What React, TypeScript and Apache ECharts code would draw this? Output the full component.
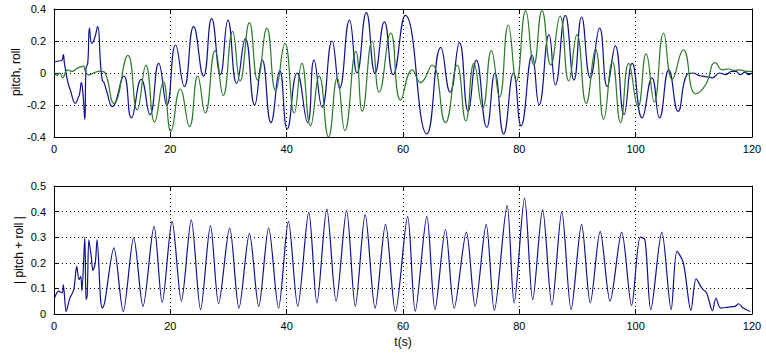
import React, { useEffect, useRef } from 'react';
import * as echarts from 'echarts';

// time stamps (s) and values
const pitchT = [0, 0.8, 1.4, 1.6, 1.8, 2.3, 2.8, 3.7, 4.1, 4.4, 4.7, 5.0, 5.3, 5.5, 5.8, 6.1, 6.5, 7.0, 7.5, 8.0, 8.3, 8.6, 9.1, 10.0, 12.0, 13.3, 15.0, 16.5, 18.0, 19.4, 20.9, 22.4, 24.0, 25.7, 27.1, 28.6, 29.9, 31.4, 32.9, 34.5, 35.8, 37.3, 38.8, 40.1, 41.8, 43.6, 44.7, 46.1, 47.8, 49.1, 50.8, 52.1, 53.7, 55.2, 56.8, 58.3, 60.4, 64.1, 66.5, 68.1, 69.7, 71.2, 72.6, 74.4, 75.8, 77.3, 79.0, 80.3, 82.2, 83.4, 85.1, 86.2, 87.9, 89.4, 90.7, 92.2, 93.8, 95.1, 96.5, 98.0, 99.4, 101.1, 102.8, 104.1, 105.7, 107.3, 108.8, 109.8, 110.8, 111.5, 112.4, 113.2, 114.4, 115.5, 116.5, 117.2, 118.0, 118.8, 119.4, 120];
const pitchV = [0.067, 0.075, 0.08, 0.115, 0.06, -0.044, -0.106, -0.19, -0.16, -0.13, -0.06, -0.14, -0.29, 0.03, 0.06, 0.28, 0.185, 0.22, 0.29, 0.06, -0.044, -0.06, -0.12, -0.21, -0.02, -0.28, -0.04, -0.26, 0.06, -0.2, 0.175, -0.085, 0.29, -0.02, 0.34, -0.01, 0.33, -0.065, 0.215, -0.2, 0.08, -0.31, 0.015, -0.35, 0.0, -0.31, 0.08, -0.215, 0.2, -0.096, 0.33, 0.0, 0.377, 0.0, 0.32, -0.01, 0.36, -0.38, 0.16, -0.12, 0.19, -0.24, 0.08, -0.34, 0.0, -0.38, 0.0, -0.33, 0.11, -0.2, 0.24, -0.075, 0.36, -0.044, 0.35, -0.03, 0.28, -0.085, 0.17, -0.26, 0.06, -0.28, -0.03, -0.28, 0.02, -0.24, -0.01, 0.0, -0.015, -0.02, -0.025, -0.03, 0.0, -0.01, 0.01, 0.01, -0.01, 0.005, -0.01, 0.0];

const rollT = [0, 0.5, 1.0, 1.5, 2.3, 3.1, 4.0, 4.8, 5.1, 5.4, 6.0, 6.8, 8.0, 8.8, 10.3, 12.7, 14.3, 15.8, 17.3, 18.8, 20.1, 21.7, 23.3, 24.7, 26.0, 27.7, 29.1, 30.7, 32.0, 33.6, 35.0, 36.6, 38.1, 39.7, 41.3, 42.6, 44.1, 45.6, 47.2, 48.7, 50.0, 51.9, 53.0, 54.7, 55.9, 57.9, 59.6, 61.6, 63.0, 65.0, 67.3, 69.3, 70.8, 72.2, 73.7, 75.2, 76.6, 78.1, 79.5, 81.1, 82.5, 83.9, 85.4, 87.0, 88.5, 89.9, 91.5, 93.1, 94.5, 96.0, 97.4, 98.8, 100.4, 101.8, 103.2, 104.8, 106.3, 108.2, 110.3, 112.0, 113.7, 114.9, 116.0, 117.0, 118.0, 119.0, 120];
const rollV = [0.0, -0.015, 0.0, -0.03, 0.02, 0.01, 0.03, 0.04, 0.044, 0.008, -0.012, 0.0, 0.012, 0.0, -0.19, 0.11, -0.23, 0.048, -0.306, -0.055, -0.365, -0.1, -0.335, -0.02, -0.25, 0.14, -0.14, 0.26, -0.05, 0.315, -0.044, 0.28, -0.11, 0.185, -0.25, 0.06, -0.33, -0.02, -0.4, -0.03, -0.36, 0.135, -0.24, 0.2, -0.12, 0.25, -0.17, 0.02, -0.06, 0.05, -0.31, 0.05, -0.3, 0.06, -0.22, 0.14, -0.15, 0.3, -0.05, 0.39, 0.05, 0.39, 0.05, 0.355, -0.05, 0.24, -0.19, 0.15, -0.29, 0.07, -0.31, 0.06, -0.21, 0.12, -0.18, 0.25, -0.04, 0.145, -0.13, -0.075, 0.065, 0.02, 0.025, 0.015, 0.02, 0.01, 0.01];

const magT = [0.1, 0.8, 1.4, 1.6, 2.1, 2.7, 3.4, 3.9, 4.3, 4.6, 4.8, 5.3, 5.5, 5.7, 6.0, 6.4, 6.7, 7.1, 7.4, 8.0, 8.3, 8.7, 10.3, 11.9, 13.7, 15.3, 17.2, 18.6, 20.3, 21.9, 23.6, 25.2, 26.9, 28.3, 30.2, 31.8, 33.6, 35.2, 36.9, 38.6, 40.3, 41.9, 43.8, 45.2, 46.9, 48.5, 50.3, 51.8, 53.5, 55.2, 57.0, 58.7, 60.8, 62.1, 64.1, 65.5, 67.3, 68.8, 70.9, 72.4, 74.3, 75.7, 77.9, 79.1, 80.9, 82.3, 84.0, 85.6, 87.3, 88.9, 90.7, 92.2, 93.9, 95.6, 97.6, 99.3, 100.8, 101.6, 102.6, 104.5, 106.1, 107.1, 108.2, 109.5, 110.4, 111.4, 112.2, 113.2, 113.8, 114.6, 115.9, 117.1, 117.7, 118.5, 119.7];
const magV = [0.0625, 0.089, 0.082, 0.115, 0.01, 0.06, 0.095, 0.186, 0.134, 0.147, 0.09, 0.30, 0.056, 0.07, 0.29, 0.225, 0.17, 0.2, 0.29, 0.06, 0.023, 0.043, 0.258, 0.01, 0.297, 0.03, 0.342, 0.045, 0.362, 0.05, 0.368, 0.017, 0.345, 0.04, 0.336, 0.023, 0.314, 0.03, 0.336, 0.023, 0.362, 0.03, 0.397, 0.043, 0.41, 0.05, 0.404, 0.03, 0.388, 0.023, 0.35, 0.01, 0.38, 0.01, 0.38, 0.017, 0.33, 0.023, 0.32, 0.03, 0.35, 0.014, 0.423, 0.043, 0.453, 0.056, 0.408, 0.036, 0.40, 0.017, 0.35, 0.043, 0.323, 0.05, 0.32, 0.033, 0.30, 0.29, 0.017, 0.32, 0.017, 0.245, 0.2, 0.014, 0.137, 0.1, 0.082, 0.013, 0.0625, 0.023, 0.027, 0.03, 0.04, 0.023, 0.01];

const tRange = [0, 120];
const tStep = 20;
const topRange = [-0.4, 0.4];
const topStep = 0.2;
const botRange = [0, 0.5];
const botStep = 0.1;
const topName = 'pitch, roll';
const botName = '| pitch + roll |';
const timeName = 't(s)';

const FONT = 'Liberation Sans, Arial, sans-serif';
const BLUE = '#10108e';
const GREEN = '#2a7a2a';

const pairs = (t: number[], v: number[]) => t.map((x, i) => [x, v[i]]);

const lineAxis = { show: true, onZero: false, lineStyle: { color: '#000', width: 1 } };
const tick = { show: true, inside: true, length: 5, lineStyle: { color: '#000', width: 1 } };
const dotted = { show: true, lineStyle: { color: '#000', width: 1, type: [1, 3] as any } };
const label = { color: '#000', fontFamily: FONT, fontSize: 11 };

function xAxes(gridIndex: number, withName: boolean) {
  return [
    {
      type: 'value', gridIndex, min: tRange[0], max: tRange[1], interval: tStep, position: 'bottom',
      axisLine: lineAxis, axisTick: tick, splitLine: dotted,
      axisLabel: { ...label, margin: 6 },
      name: withName ? timeName : '', nameLocation: 'middle', nameGap: 22,
      nameTextStyle: { color: '#000', fontFamily: FONT, fontSize: 12 },
    },
    {
      type: 'value', gridIndex, min: tRange[0], max: tRange[1], interval: tStep, position: 'top',
      axisLine: lineAxis, axisTick: tick, splitLine: { show: false }, axisLabel: { show: false },
    },
  ];
}

function yAxes(gridIndex: number, range: number[], step: number) {
  return [
    {
      type: 'value', gridIndex, min: range[0], max: range[1], interval: step, position: 'left',
      axisLine: lineAxis, axisTick: tick, splitLine: dotted,
      axisLabel: { ...label, margin: 8, formatter: (v: number) => String(Math.round(v * 10) / 10) },
    },
    {
      type: 'value', gridIndex, min: range[0], max: range[1], interval: step, position: 'right',
      axisLine: lineAxis, axisTick: tick, splitLine: { show: false }, axisLabel: { show: false },
    },
  ];
}

export default function App() {
  const ref = useRef<HTMLDivElement>(null);
  useEffect(() => {
    document.body.style.margin = '0';
    const chart = echarts.init(ref.current!, null, { renderer: 'svg' });
    const lineSeries = (data: number[][], color: string, xi: number, yi: number, smooth: number) => ({
      type: 'line', data, xAxisIndex: xi, yAxisIndex: yi, showSymbol: false, symbol: 'none',
      smooth, clip: true, lineStyle: { color, width: 1.2 }, itemStyle: { color },
    });
    const yName = (text: string, x: number, y: number) => ({
      type: 'text', x, y, rotation: Math.PI / 2,
      style: { text, fill: '#000', font: `12px ${FONT}`, align: 'center', verticalAlign: 'middle' },
    });
    chart.setOption({
      animation: false,
      backgroundColor: '#fff',
      grid: [
        { left: 54, right: 14, top: 9, height: 128 },
        { left: 54, right: 14, top: 186, height: 128 },
      ],
      xAxis: [...xAxes(0, false), ...xAxes(1, true)],
      yAxis: [...yAxes(0, topRange, topStep), ...yAxes(1, botRange, botStep)],
      graphic: [yName(topName, 16, 72), yName(botName, 19, 250)],
      series: [
        lineSeries(pairs(pitchT, pitchV), BLUE, 0, 0, 0.5),
        lineSeries(pairs(rollT, rollV), GREEN, 0, 0, 0.5),
        lineSeries(pairs(magT, magV), BLUE, 2, 2, 0.3),
      ],
    });
    return () => chart.dispose();
  }, []);
  return <div ref={ref} style={{ position: 'absolute', left: 0, top: 0, width: 766, height: 355, background: '#fff' }} />;
}
